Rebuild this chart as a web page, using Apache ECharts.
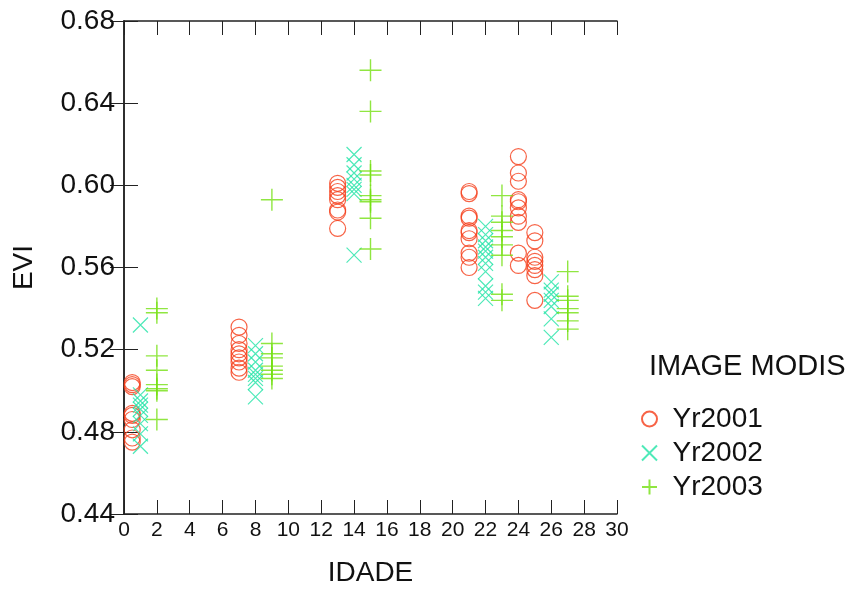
<!DOCTYPE html>
<html>
<head>
<meta charset="utf-8">
<script src="https://cdn.jsdelivr.net/npm/echarts@6/dist/echarts.min.js"></script>
<style>
  html, body { margin: 0; padding: 0; background: #fff; }
  #main { width: 852px; height: 592px; }
</style>
</head>
<body>
<div id="main"></div>
<script>
// EVI readings per age (IDADE), one array of values for each age
const ages2001 = [0.5, 7, 13, 21, 24, 25]
const evi2001 = [
  [0.504, 0.503, 0.502, 0.489, 0.488, 0.486, 0.481, 0.477, 0.475],
  [0.531, 0.527, 0.523, 0.520, 0.518, 0.516, 0.514, 0.511, 0.509],
  [0.601, 0.599, 0.597, 0.595, 0.593, 0.588, 0.587, 0.579],
  [0.597, 0.596, 0.585, 0.584, 0.578, 0.577, 0.574, 0.567, 0.565, 0.560],
  [0.614, 0.606, 0.602, 0.593, 0.592, 0.589, 0.585, 0.582, 0.567, 0.561],
  [0.577, 0.573, 0.565, 0.563, 0.561, 0.559, 0.556, 0.544]
]
const ages2002 = [1, 8, 14, 22, 26]
const evi2002 = [
  [0.532, 0.498, 0.495, 0.493, 0.491, 0.488, 0.484, 0.479, 0.473],
  [0.522, 0.518, 0.514, 0.510, 0.508, 0.506, 0.504, 0.497],
  [0.615, 0.610, 0.606, 0.603, 0.600, 0.598, 0.596, 0.566],
  [0.580, 0.576, 0.573, 0.570, 0.568, 0.565, 0.562, 0.558, 0.551, 0.548, 0.545],
  [0.553, 0.549, 0.547, 0.544, 0.541, 0.535, 0.526]
]
const ages2003 = [2, 9, 15, 23, 27]
const evi2003 = [
  [0.540, 0.538, 0.517, 0.510, 0.503, 0.501, 0.500, 0.486],
  [0.593, 0.523, 0.518, 0.516, 0.512, 0.510, 0.508, 0.506],
  [0.656, 0.636, 0.607, 0.605, 0.595, 0.593, 0.592, 0.584, 0.569],
  [0.595, 0.585, 0.582, 0.578, 0.575, 0.571, 0.566, 0.547, 0.544],
  [0.558, 0.546, 0.544, 0.540, 0.538, 0.534, 0.530]
]
const xTicks = { min: 0, max: 30, interval: 2 }
const yTicks = { min: 0.44, max: 0.68, interval: 0.04 }

function points(ages, vals) {
  let out = []
  ages.forEach((a, i) => vals[i].forEach(v => out.push([a, v])))
  return out
}

let font = 'Liberation Sans, Arial, sans-serif'
let axisBase = {
  axisLine: { show: true, lineStyle: { color: '#222', width: 1.5 } },
  axisTick: { show: true, inside: true, length: 14, lineStyle: { color: '#222' } },
  splitLine: { show: false }
}

let option = {
  animation: false,
  grid: { left: 124, right: 235, top: 21, bottom: 75 },
  legend: {
    orient: 'vertical',
    left: 636,
    top: 400,
    itemGap: 6,
    itemWidth: 24,
    itemHeight: 15,
    textStyle: { fontSize: 28, lineHeight: 28, color: '#111', fontFamily: font, padding: [0, 0, 0, 6] },
    data: ['Yr2001', 'Yr2002', 'Yr2003']
  },
  graphic: [{
    type: 'text', left: 649, top: 352,
    style: { text: 'IMAGE MODIS', fontSize: 29, fill: '#111', fontFamily: font }
  }],
  xAxis: [
    Object.assign({}, axisBase, {
      type: 'value', min: xTicks.min, max: xTicks.max, interval: xTicks.interval,
      name: 'IDADE', nameLocation: 'middle', nameGap: 45,
      nameTextStyle: { fontSize: 28, color: '#111', fontFamily: font },
      axisLabel: { fontSize: 21, color: '#111', fontFamily: font, margin: 6 }
    }),
    Object.assign({}, axisBase, {
      type: 'value', position: 'top', min: xTicks.min, max: xTicks.max, interval: xTicks.interval,
      axisLabel: { show: false }
    })
  ],
  yAxis: [
    Object.assign({}, axisBase, {
      type: 'value', min: yTicks.min, max: yTicks.max, interval: yTicks.interval,
      name: 'EVI', nameLocation: 'middle', nameGap: 86,
      nameTextStyle: { fontSize: 28, color: '#111', fontFamily: font },
      axisLabel: { fontSize: 28, color: '#111', fontFamily: font, margin: 9, formatter: v => v.toFixed(2) }
    }),
    Object.assign({}, axisBase, {
      type: 'value', position: 'right', min: yTicks.min, max: yTicks.max, interval: yTicks.interval,
      axisLabel: { show: false }
    })
  ],
  series: [
    {
      name: 'Yr2001', type: 'scatter', symbol: 'circle', symbolSize: 16,
      itemStyle: { color: 'rgba(0,0,0,0)', borderColor: '#f53c18', borderWidth: 1.2 },
      data: points(ages2001, evi2001)
    },
    {
      name: 'Yr2002', type: 'scatter', symbol: 'path://M0 0L10 10M10 0L0 10', symbolSize: 15,
      itemStyle: { color: 'rgba(0,0,0,0)', borderColor: '#22e3a6', borderWidth: 1.2 },
      data: points(ages2002, evi2002)
    },
    {
      name: 'Yr2003', type: 'scatter', symbol: 'path://M5 0L5 10M0 5L10 5', symbolSize: 22,
      itemStyle: { color: 'rgba(0,0,0,0)', borderColor: '#74e012', borderWidth: 1.4 },
      data: points(ages2003, evi2003)
    }
  ]
}

let myChart = echarts.init(document.getElementById('main'))
myChart.setOption(option)
</script>
</body>
</html>
